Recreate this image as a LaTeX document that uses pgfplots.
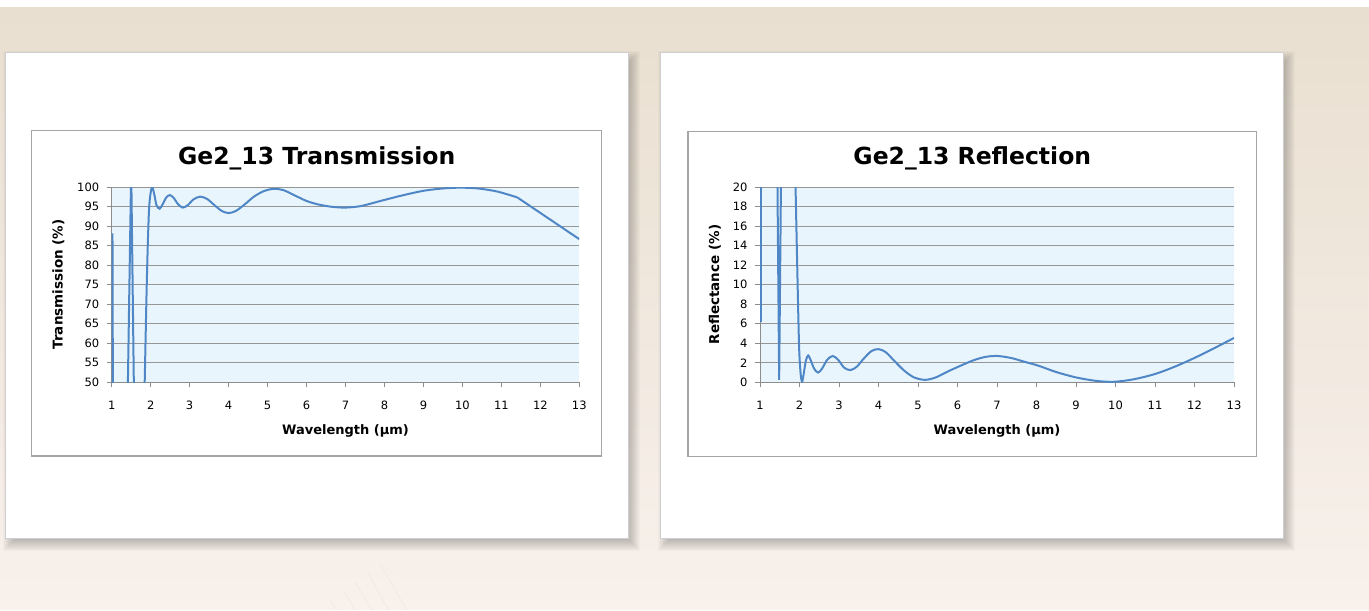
\documentclass[border=0pt]{standalone}
\usepackage{fontspec}
\setmainfont{DejaVu Sans}
\usepackage{pgfplots}
\pgfplotsset{compat=1.18}

\definecolor{bgtop}{RGB}{233,223,208}
\definecolor{bgbot}{RGB}{248,241,236}
\definecolor{streak}{RGB}{242,234,218}
\definecolor{plotbg}{RGB}{233,245,252}
\definecolor{series}{RGB}{79,135,198}
\definecolor{gridc}{RGB}{150,150,150}
\definecolor{axisc}{RGB}{140,140,140}
\definecolor{boxc}{RGB}{165,165,165}
\definecolor{panelc}{RGB}{205,205,210}

% panel with a soft drop shadow: left, bottom, right, top
\newcommand{\panel}[4]{%
  \foreach \e in {-6,...,7}{%
    \fill[black,opacity=0.018] ({#1+5-\e},{#2-5-\e}) rectangle ({#3+5+\e},{#4-5+\e});}
  \filldraw[fill=white,draw=panelc,line width=1pt] (#1,#2) rectangle (#3,#4);
}

\pgfplotsset{
  curve/.style={series,line width=2pt,mark=none},
  ge/.style={
    scale only axis, height=195pt,
    xmin=1, xmax=13, xtick={1,...,13},
    axis lines*=left,
    axis line style={axisc,line width=1pt},
    tick style={axisc,line width=1pt},
    tick align=outside, major tick length=5pt,
    ymajorgrids, grid style={gridc,line width=1pt},
    axis background/.style={fill=plotbg},
    /pgf/number format/assume math mode=true,
    ticklabel style={font=\fontsize{11.5}{12}\selectfont},
    xticklabel style={yshift=-10pt},
    yticklabel style={xshift=-4pt},
}}

\begin{document}
\begin{tikzpicture}[x=1pt,y=1pt]
\fill[white] (0,0) rectangle (1369,610);
\shade[top color=bgtop,bottom color=bgbot] (0,0) rectangle (1369,602);
\draw[streak,line width=.6pt] (330,10)--(336.7,0) (343.3,20)--(355,0) (355,28.3)--(371.7,0)
  (368.3,36.7)--(388.3,0) (380,46.7)--(406.7,0);

\panel{5}{71}{628}{557}
\panel{660}{71}{1283}{557}
\draw[boxc,line width=1.3pt] (31.7,154) rectangle (601.7,479.3);
\draw[boxc,line width=1.3pt] (688,153.3) rectangle (1256.7,478.5);

% ---- transmission
\begin{axis}[ge, at={(111.7pt,227.7pt)}, anchor=south west, width=467.6pt,
    ymin=50, ymax=100, ytick={50,55,...,100}]
\addplot[curve] coordinates {(1.02,88.2) (1.035,30)};
\addplot[curve] coordinates {(1.40,40) (1.495,101) (1.505,101) (1.58,40)};
\addplot[curve,smooth] coordinates {
 (1.80,28.6) (1.85,51.5) (1.905,77.4) (1.96,94.6) (2.03,100) (2.09,98.3)
 (2.15,95.4) (2.23,94.5) (2.31,95.7) (2.40,97.4) (2.49,98.0) (2.59,97.3)
 (2.70,95.7) (2.82,94.8) (2.95,95.4) (3.10,96.9) (3.27,97.6) (3.45,97.0)
 (3.65,95.3) (3.83,93.9) (4.00,93.4) (4.18,93.9) (4.40,95.5) (4.65,97.6)
 (4.90,99.0) (5.15,99.6) (5.40,99.3) (5.70,97.9) (6.00,96.5) (6.30,95.6)
 (6.65,95.0) (7.00,94.8) (7.40,95.2) (7.90,96.5) (8.45,97.9) (9.00,99.1)
 (9.50,99.7) (9.95,99.9) (10.40,99.7) (10.90,98.9) (11.41,97.4)};
\addplot[curve] coordinates {(11.41,97.4) (13,86.7)};
\end{axis}

% ---- reflection
\begin{axis}[ge, at={(760pt,227.7pt)}, anchor=south west, width=474pt,
    ymin=0, ymax=20, ytick={0,2,...,20}]
\addplot[curve] coordinates {(1.02,6.2) (1.03,60)};
\addplot[curve] coordinates {(1.40,40) (1.485,0.25) (1.575,40)};
\addplot[curve,smooth] coordinates {
 (1.85,29.5) (1.90,20) (1.95,10.5) (1.99,3.6) (2.03,0.8) (2.065,0.08)
 (2.10,0.7) (2.16,2.2) (2.22,2.75) (2.29,2.2) (2.37,1.4) (2.47,1.0)
 (2.57,1.4) (2.70,2.3) (2.84,2.7) (2.98,2.3) (3.13,1.5) (3.29,1.25)
 (3.45,1.6) (3.62,2.4) (3.82,3.2) (4.00,3.4) (4.18,3.1) (4.40,2.2)
 (4.65,1.2) (4.90,0.5) (5.18,0.25) (5.45,0.5) (5.75,1.1) (6.05,1.65)
 (6.40,2.25) (6.70,2.6) (7.00,2.7) (7.35,2.5) (7.70,2.1) (8.05,1.7)
 (8.50,1.05) (9.00,0.5) (9.50,0.15) (9.95,0.05) (10.45,0.3) (11.00,0.85)
 (11.50,1.6) (12.00,2.5) (12.50,3.5) (13.00,4.55)};
\end{axis}

% titles and axis labels
\node[anchor=base,font=\fontsize{23.5}{26}\selectfont\bfseries] at (316.7,445) {Ge2\_13 Transmission};
\node[anchor=base,font=\fontsize{23.5}{26}\selectfont\bfseries] at (972.3,445) {Ge2\_13 Reflection};
\node[anchor=base,font=\fontsize{13}{15}\selectfont\bfseries] at (345.5,175) {Wavelength (µm)};
\node[anchor=base,font=\fontsize{13}{15}\selectfont\bfseries] at (997,175) {Wavelength (µm)};
\node[rotate=90,font=\fontsize{13.5}{15}\selectfont\bfseries] at (58.5,325.5) {Transmission (\%)};
\node[rotate=90,font=\fontsize{13.5}{15}\selectfont\bfseries] at (715,325.5) {Reflectance (\%)};
\end{tikzpicture}
\end{document}
